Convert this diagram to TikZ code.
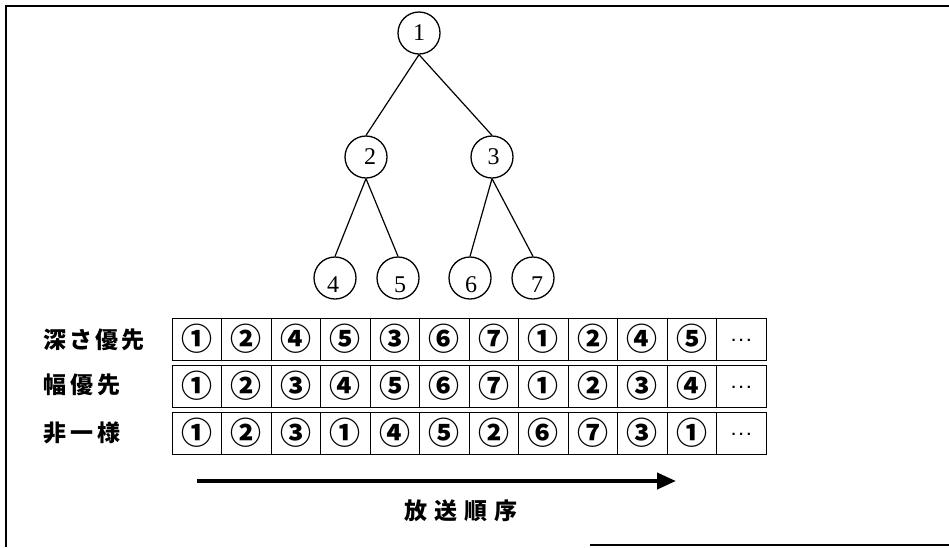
\documentclass[tikz,border=0pt]{standalone}
\usepackage{fontspec}
\setmainfont{Liberation Serif}
\newfontfamily\cjk{Noto Sans CJK JP}
\newfontfamily\lsans{Liberation Sans}
\usetikzlibrary{arrows.meta}
\begin{document}
\begin{tikzpicture}[x=1pt,y=-1pt,
  tnode/.style={draw, circle, minimum size=42pt, inner sep=0pt, line width=1.3pt, font=\fontsize{24}{24}\selectfont},
  tedge/.style={line width=1.2pt},
  cell/.style={draw, minimum width=49.5pt, minimum height=42pt, inner sep=0pt, line width=1pt, font=\cjk\bfseries\fontsize{31}{31}\selectfont},
  lbl/.style={anchor=west, inner sep=0pt, font=\cjk\bfseries\fontsize{23}{23}\selectfont},
  frameline/.style={line width=2pt}
]
\useasboundingbox (0,0) rectangle (949,547);
% frame
\coordinate (fbl) at (6,547);
\coordinate (ftl) at (6,6);
\coordinate (ftr) at (949,6);
\coordinate (fb1) at (590,545);
\coordinate (fb2) at (949,545);
\draw[frameline] (fbl) -- (ftl) -- (ftr);
\draw[frameline, line width=1.5pt] (fb1) -- (fb2);

% tree
\node[tnode] (n1) at (419,33) {1};
\node[tnode] (n2) at (366,157) {\hspace*{8pt}2};
\node[tnode] (n3) at (492,157) {\hspace*{3pt}3};
\node[tnode] (n4) at (335,278) {\raisebox{0pt}[28pt][0pt]{4}\hspace*{4pt}};
\node[tnode] (n5) at (398,278) {\hspace*{4pt}\raisebox{0pt}[28pt][0pt]{5}};
\node[tnode] (n6) at (470,278) {\hspace*{2pt}\raisebox{0pt}[28pt][0pt]{6}};
\node[tnode] (n7) at (533,278) {\hspace*{8pt}\raisebox{0pt}[28pt][0pt]{7}};
\draw[tedge] (n1.south) -- (n2.north);
\draw[tedge] (n1.south) -- (n3.north);
\draw[tedge] (n2.south) -- (n4.north);
\draw[tedge] (n2.south) -- (n5.north);
\draw[tedge] (n3.south) -- (n6.north);
\draw[tedge] (n3.south) -- (n7.north);

% row labels
\node[lbl] (l1) at (43,340) {深\hspace{3pt}さ\hspace{3pt}優\hspace{3pt}先};
\node[lbl] (l2) at (43,385) {幅\hspace{4pt}優\hspace{4pt}先};
\node[lbl] (l3) at (43,433) {非\hspace{4pt}一\hspace{4pt}様};

% cells
\foreach \r/\yc/\lst in {1/339/{①,②,④,⑤,③,⑥,⑦,①,②,④,⑤},
                         2/386/{①,②,③,④,⑤,⑥,⑦,①,②,③,④},
                         3/433/{①,②,③,①,④,⑤,②,⑥,⑦,③,①}}{
  \foreach \t [count=\i from 0] in \lst {
    \node[cell] (r\r c\i) at ({172+49.5*(\i+0.5)},\yc) {\t};
  }
  \node[cell, font=\lsans\bfseries\fontsize{15}{15}\selectfont] (r\r c11) at ({172+49.5*11.5},\yc) {\raisebox{-4pt}{.\hspace{3.5pt}.\hspace{3.5pt}.}};
}

% arrow
\coordinate (as) at (197,481);
\coordinate (ae) at (676,481);
\draw[line width=4pt, -{Triangle[length=19pt,width=16pt]}] (as) -- (ae);
\node[inner sep=0pt, font=\cjk\bfseries\fontsize{23}{23}\selectfont] (olbl) at (461,511) {放\hspace{7pt}送\hspace{7pt}順\hspace{7pt}序};
\end{tikzpicture}
\end{document}
